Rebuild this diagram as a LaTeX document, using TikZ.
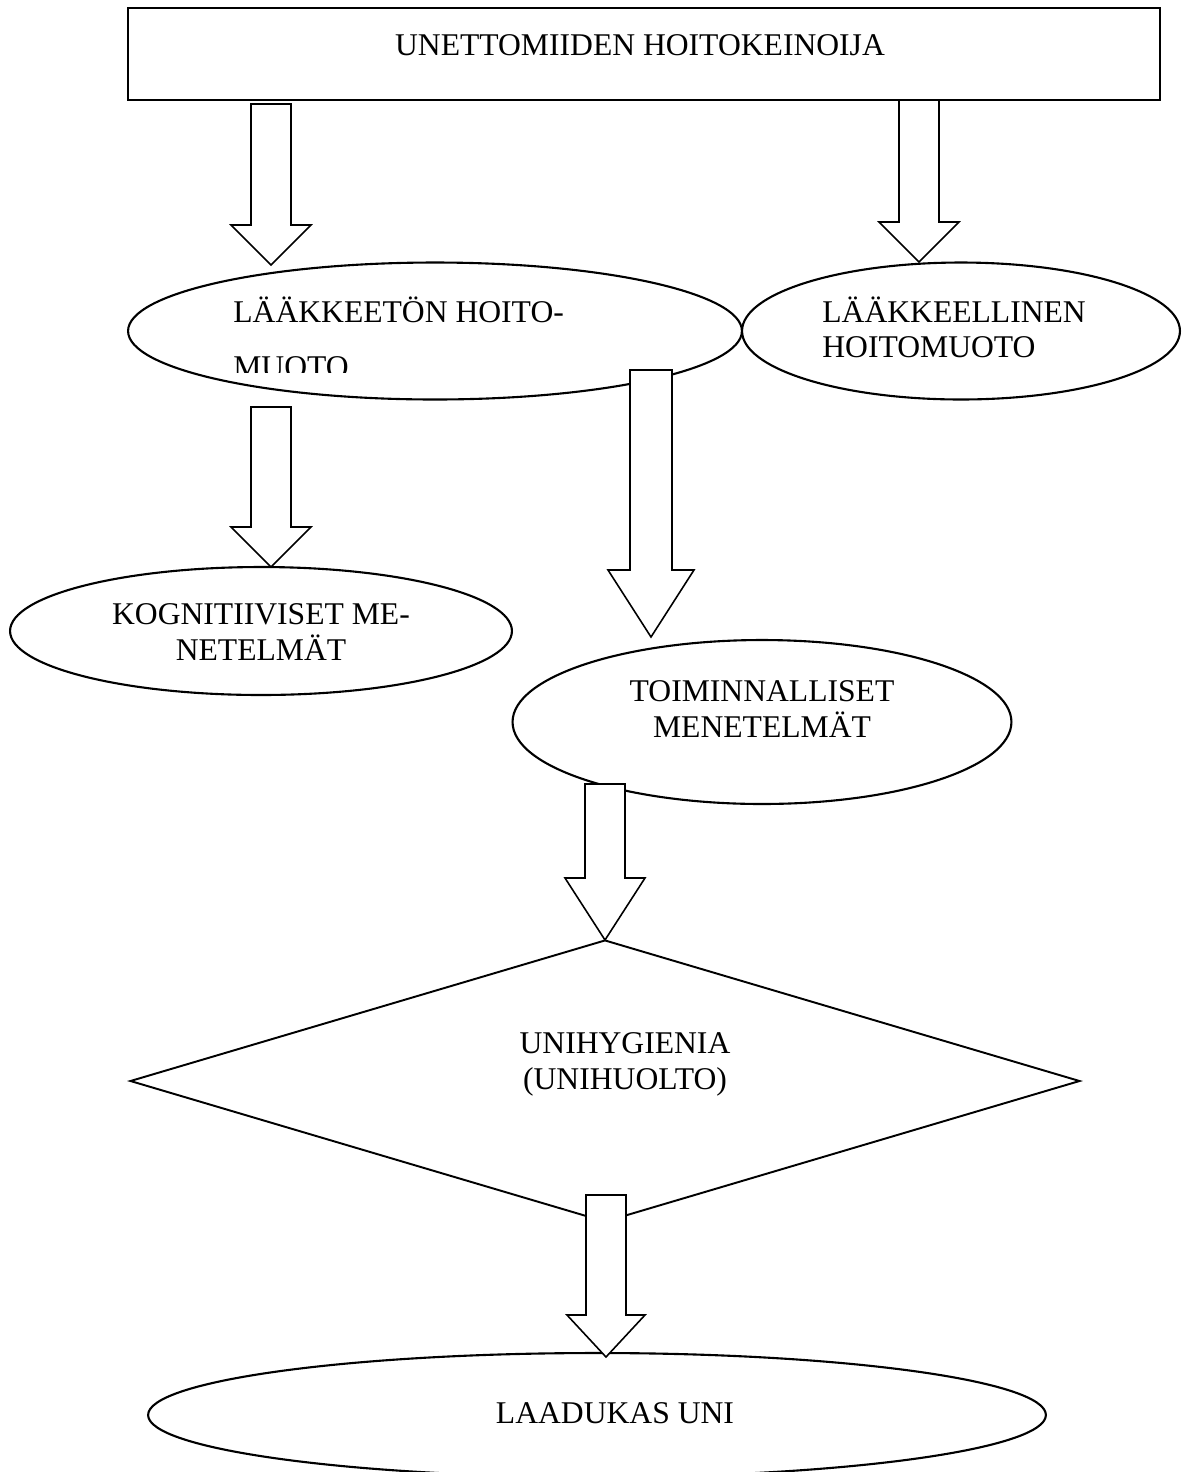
\documentclass[tikz,border=0pt]{standalone}
\usepackage{fontspec}
\setmainfont{Liberation Serif}
\usetikzlibrary{calc,shapes.geometric}

% hollow block arrow from a start coordinate down to a tip coordinate
% #3 shaft half width, #4 head half width, #5 head length (all in px units)
\newcommand\blockarrow[5]{%
  \draw[hollowarrow] let \p1=(#1), \p2=(#2) in
    (\x1-#3*0.02cm,\y1) -- (\x1-#3*0.02cm,\y2+#5*0.02cm)
    -- (\x1-#4*0.02cm,\y2+#5*0.02cm) -- (\x2,\y2)
    -- (\x1+#4*0.02cm,\y2+#5*0.02cm) -- (\x1+#3*0.02cm,\y2+#5*0.02cm)
    -- (\x1+#3*0.02cm,\y1) -- cycle;}

\begin{document}
\begin{tikzpicture}[x=0.02cm,y=-0.02cm,
  frame/.style={draw, line width=1.1pt, fill=white, inner sep=0pt},
  oval/.style={ellipse, draw, line width=1.2pt, fill=white, inner sep=0pt},
  txt/.style={font=\fontsize{18}{20.5}\selectfont, align=center, inner sep=0pt},
  hollowarrow/.style={draw, line width=0.9pt, fill=white, line join=miter}]
\useasboundingbox (0,0) rectangle (1181,1472);

% title box
\node[frame, minimum width=20.64cm, minimum height=1.84cm] (top) at (644,54) {};
\node[txt] (toptxt) at (640,45) {UNETTOMIIDEN HOITOKEINOIJA};

% first level
\node[oval, minimum width=12.28cm, minimum height=2.74cm] (nondrug) at (435,331) {};
\node[txt, anchor=base west] (nondrugA) at (233,322) {LÄÄKKEETÖN HOITO-};
\begin{scope}
  \clip (200,340) rectangle (600,372);
  \node[txt, anchor=base west] (nondrugB) at (233,377) {MUOTO};
\end{scope}
\node[oval, minimum width=8.76cm, minimum height=2.74cm] (drug) at (961,331) {};
\node[txt, anchor=base west, align=left, font=\fontsize{18}{19.5}\selectfont]
  (drugtxt) at (822,357) {LÄÄKKEELLINEN\\HOITOMUOTO};

% second level
\node[oval, minimum width=10.04cm, minimum height=2.56cm] (cogn) at (261,631) {};
\node[txt] at (261,632) {KOGNITIIVISET ME-\\NETELMÄT};
\node[oval, minimum width=9.98cm, minimum height=3.28cm] (funct) at (762,722) {};
\node[txt] at (762,709) {TOIMINNALLISET\\MENETELMÄT};

% sleep hygiene
\node[diamond, draw, line width=1.1pt, fill=white, inner sep=0pt,
      minimum width=19cm, minimum height=5.64cm] (hyg) at (605,1081) {};
\node[txt] at (625,1064) {UNIHYGIENIA\\(UNIHUOLTO)};

% result
\node[oval, minimum width=17.96cm, minimum height=2.48cm] (good) at (597,1415) {};
\node[txt] at (615,1413) {LAADUKAS UNI};

% arrow end points
\coordinate (a1s) at (271,104);  \coordinate (a1t) at (271,265);
\coordinate (a2s) at (919,100);  \coordinate (a2t) at (919,262);
\coordinate (a3s) at (271,407);  \coordinate (a3t) at (271,567);
\coordinate (a4s) at (651,370);  \coordinate (a4t) at (651,637);
\coordinate (a5s) at (605,784);  \coordinate (a5t) at (605,940);
\coordinate (a6s) at (606,1195); \coordinate (a6t) at (606,1357);

\blockarrow{a1s}{a1t}{20}{40}{40}
\blockarrow{a2s}{a2t}{20}{40}{40}
\blockarrow{a3s}{a3t}{20}{40}{40}
\blockarrow{a4s}{a4t}{21}{43}{67}
\blockarrow{a5s}{a5t}{20}{40}{62}
\blockarrow{a6s}{a6t}{20}{39}{42}
\end{tikzpicture}
\end{document}
